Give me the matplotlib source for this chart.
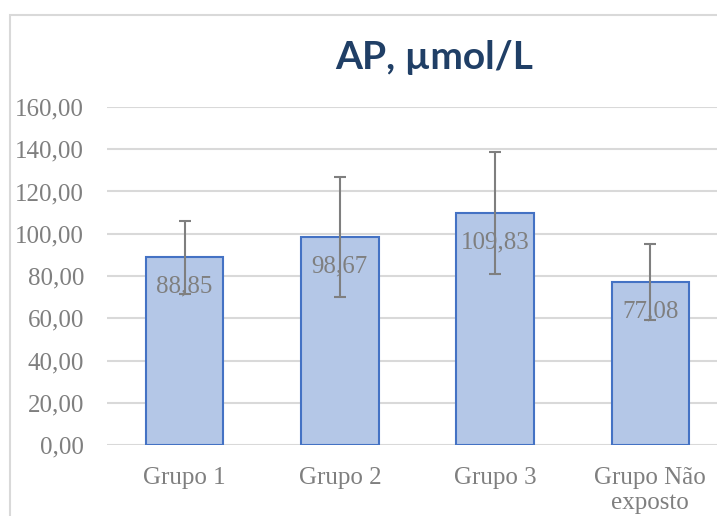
import matplotlib.pyplot as plt
from matplotlib.patches import Rectangle

grupos = ["Grupo 1", "Grupo 2", "Grupo 3", "Grupo Não\nexposto"]
medias = [88.85, 98.67, 109.83, 77.08]
erros = [17.4, 28.4, 28.9, 18.1]
rotulos = ["88,85", "98,67", "109,83", "77,08"]
yticks = [0, 20, 40, 60, 80, 100, 120, 140, 160]

W, H = 717, 516
fig = plt.figure(figsize=(W / 100, H / 100), dpi=100)

# moldura do grafico (cortada a direita e em baixo)
fig.patches.append(Rectangle((10 / W, -0.1), 2.0, 1.1 - 14.5 / H, transform=fig.transFigure,
                             fill=False, edgecolor="#d9d9d9", linewidth=1.5))

ax = fig.add_axes([107 / W, (H - 445) / H, (728 - 107) / W, (445 - 107) / H])
x = list(range(len(grupos)))
ax.bar(x, medias, width=0.5, color="#b4c7e7", edgecolor="#4472c4", linewidth=1.5, zorder=2)
ax.errorbar(x, medias, yerr=erros, fmt="none", ecolor="#7f7f7f", elinewidth=1.5,
            capsize=4.3, capthick=1.5, zorder=3)

for xi, m, r in zip(x, medias, rotulos):
    ax.annotate(r, (xi, m), xytext=(0, -25.5), textcoords="offset points", ha="center",
                va="baseline", color="#7f7f7f", fontsize=18, family="Liberation Serif", zorder=4)

ax.set_xlim(-0.5, 3.5)
ax.set_ylim(0, 160)
ax.set_yticks(yticks)
ax.set_yticklabels([f"{v:.2f}".replace(".", ",") for v in yticks])
ax.set_xticks(x)
ax.set_xticklabels(grupos, linespacing=1.2)
for lab in ax.get_xticklabels() + ax.get_yticklabels():
    lab.set_family("Liberation Serif")
    lab.set_fontsize(18)
    lab.set_color("#7f7f7f")
ax.tick_params(axis="y", length=0, pad=16.5)
ax.tick_params(axis="x", length=0, pad=15.5)
ax.grid(axis="y", color="#d9d9d9", linewidth=1.5, zorder=0)
ax.set_axisbelow(True)
for s in ax.spines.values():
    s.set_visible(False)

fig.text(434 / W, (H - 69) / H, "AP, µmol/L", ha="center", va="baseline",
         fontsize=28, fontweight="bold", family="Lato", color="#203f66")

fig.savefig("out.png", dpi=100)
